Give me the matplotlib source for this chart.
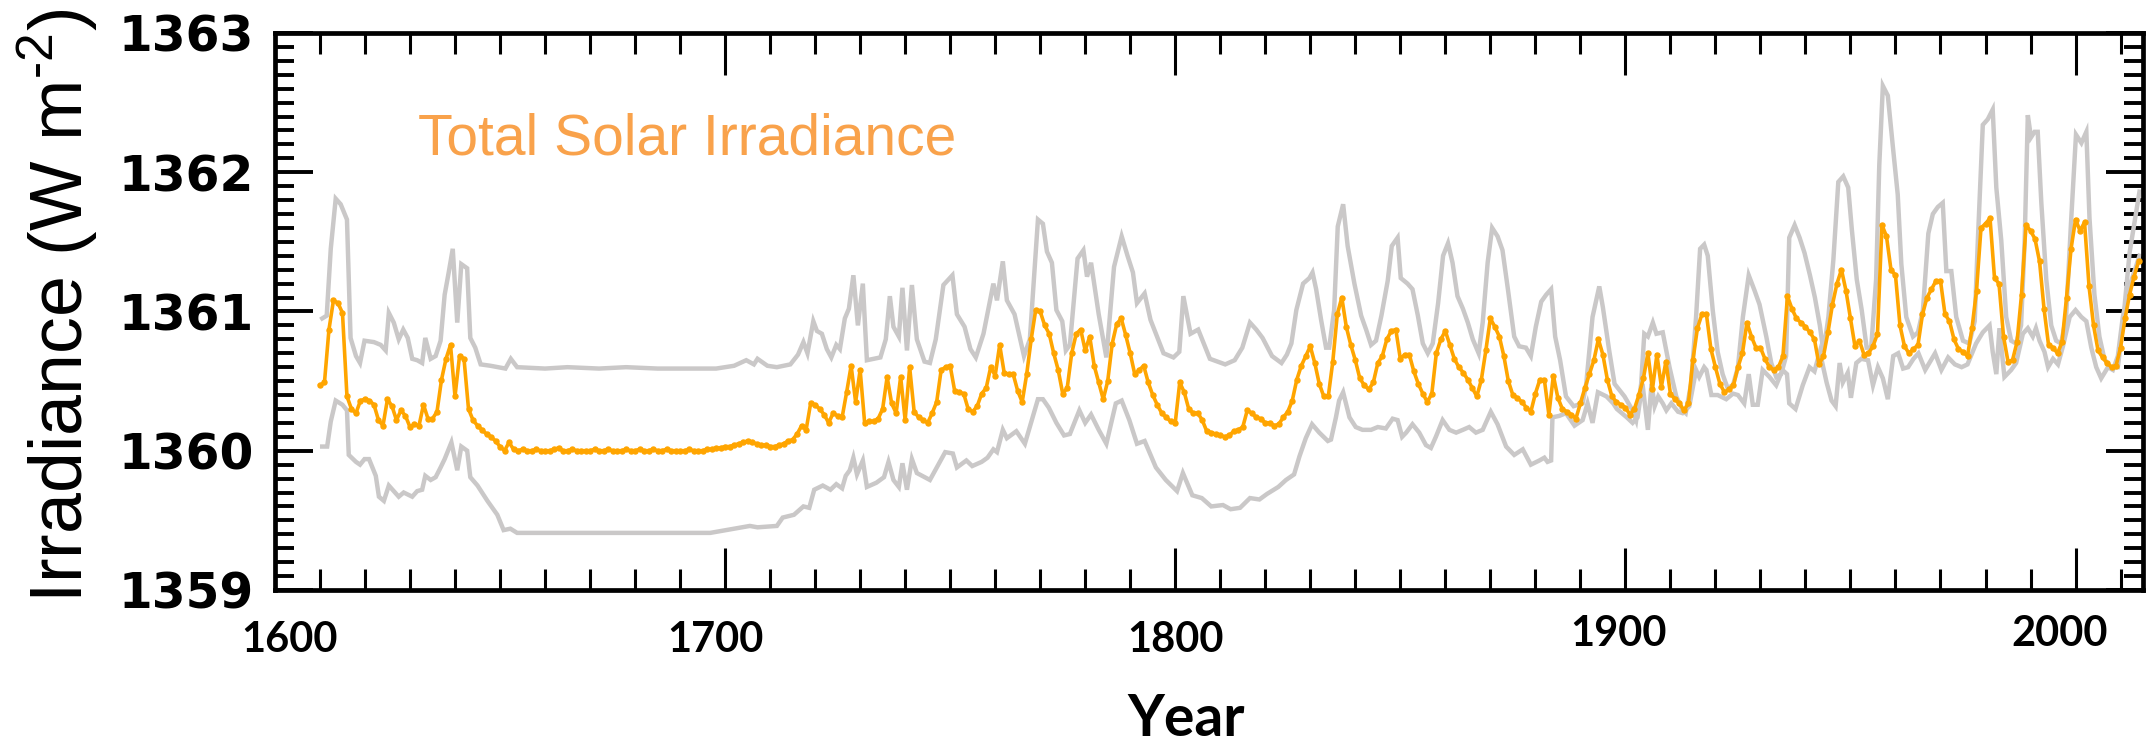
import numpy as np
import matplotlib.pyplot as plt
from matplotlib.ticker import MultipleLocator
from matplotlib.transforms import ScaledTranslation

# annual total solar irradiance (W m-2), 1610 onwards
tsi = [
    1360.47, 1360.49, 1360.87, 1361.08, 1361.06, 1360.99, 1360.39, 1360.30, 1360.27, 1360.36,
    1360.37, 1360.36, 1360.33, 1360.22, 1360.18, 1360.37, 1360.32, 1360.22, 1360.29, 1360.25,
    1360.17, 1360.19, 1360.18, 1360.33, 1360.23, 1360.23, 1360.28, 1360.51, 1360.66, 1360.76,
    1360.39, 1360.68, 1360.66, 1360.30, 1360.22, 1360.18, 1360.15, 1360.12, 1360.10, 1360.07,
    1360.03, 1360.00, 1360.06, 1360.01, 1360.00, 1360.01, 1360.00, 1360.00, 1360.01, 1360.00,
    1360.00, 1360.00, 1360.01, 1360.02, 1360.00, 1360.00, 1360.01, 1360.00, 1360.00, 1360.00,
    1360.00, 1360.01, 1360.00, 1360.00, 1360.01, 1360.00, 1360.00, 1360.00, 1360.01, 1360.00,
    1360.00, 1360.01, 1360.00, 1360.00, 1360.01, 1360.00, 1360.00, 1360.01, 1360.00, 1360.00,
    1360.00, 1360.00, 1360.01, 1360.00, 1360.00, 1360.00, 1360.01, 1360.01, 1360.02, 1360.02,
    1360.03, 1360.03, 1360.04, 1360.05, 1360.06, 1360.07, 1360.06, 1360.05, 1360.04, 1360.04,
    1360.03, 1360.03, 1360.04, 1360.05, 1360.07, 1360.08, 1360.12, 1360.18, 1360.15, 1360.34,
    1360.33, 1360.30, 1360.26, 1360.20, 1360.27, 1360.25, 1360.24, 1360.42, 1360.61, 1360.35,
    1360.58, 1360.20, 1360.21, 1360.21, 1360.23, 1360.30, 1360.53, 1360.34, 1360.27, 1360.53,
    1360.22, 1360.60, 1360.28, 1360.24, 1360.22, 1360.20, 1360.27, 1360.35, 1360.58, 1360.60,
    1360.61, 1360.43, 1360.42, 1360.41, 1360.30, 1360.28, 1360.32, 1360.41, 1360.45, 1360.60,
    1360.54, 1360.76, 1360.56, 1360.55, 1360.55, 1360.43, 1360.35, 1360.55, 1360.80, 1361.01,
    1361.00, 1360.90, 1360.84, 1360.70, 1360.58, 1360.41, 1360.45, 1360.70, 1360.84, 1360.87,
    1360.72, 1360.82, 1360.61, 1360.49, 1360.37, 1360.50, 1360.77, 1360.91, 1360.95, 1360.83,
    1360.70, 1360.55, 1360.58, 1360.61, 1360.49, 1360.40, 1360.33, 1360.27, 1360.24, 1360.21,
    1360.20, 1360.49, 1360.42, 1360.30, 1360.27, 1360.27, 1360.22, 1360.14, 1360.13, 1360.12,
    1360.11, 1360.10, 1360.11, 1360.14, 1360.15, 1360.17, 1360.29, 1360.27, 1360.24, 1360.23,
    1360.20, 1360.20, 1360.18, 1360.19, 1360.24, 1360.28, 1360.36, 1360.51, 1360.61, 1360.68,
    1360.75, 1360.63, 1360.48, 1360.39, 1360.39, 1360.64, 1360.98, 1361.10, 1360.89, 1360.76,
    1360.65, 1360.52, 1360.47, 1360.44, 1360.49, 1360.63, 1360.68, 1360.80, 1360.86, 1360.87,
    1360.66, 1360.69, 1360.69, 1360.57, 1360.48, 1360.41, 1360.35, 1360.41, 1360.70, 1360.80,
    1360.86, 1360.76, 1360.66, 1360.60, 1360.56, 1360.51, 1360.45, 1360.39, 1360.51, 1360.72,
    1360.95, 1360.89, 1360.82, 1360.68, 1360.50, 1360.40, 1360.38, 1360.35, 1360.31, 1360.28,
    1360.41, 1360.51, 1360.51, 1360.26, 1360.54, 1360.38, 1360.30, 1360.28, 1360.26, 1360.23,
    1360.34, 1360.45, 1360.55, 1360.65, 1360.80, 1360.69, 1360.51, 1360.39, 1360.35, 1360.33,
    1360.31, 1360.26, 1360.30, 1360.40, 1360.52, 1360.70, 1360.44, 1360.69, 1360.46, 1360.64,
    1360.41, 1360.37, 1360.34, 1360.29, 1360.34, 1360.65, 1360.88, 1360.98, 1360.98, 1360.73,
    1360.60, 1360.48, 1360.42, 1360.44, 1360.47, 1360.60, 1360.70, 1360.92, 1360.82, 1360.74,
    1360.74, 1360.66, 1360.60, 1360.58, 1360.60, 1360.68, 1361.11, 1361.02, 1360.95, 1360.92,
    1360.89, 1360.85, 1360.80, 1360.62, 1360.68, 1360.85, 1361.05, 1361.20, 1361.30, 1361.15,
    1360.95, 1360.75, 1360.79, 1360.69, 1360.70, 1360.75, 1360.84, 1361.62, 1361.54, 1361.30,
    1361.26, 1360.90, 1360.75, 1360.70, 1360.73, 1360.76, 1360.98, 1361.10, 1361.16, 1361.22,
    1361.22, 1360.98, 1360.93, 1360.80, 1360.73, 1360.71, 1360.68, 1360.88, 1361.15, 1361.60,
    1361.63, 1361.67, 1361.24, 1361.20, 1360.82, 1360.64, 1360.65, 1360.78, 1361.12, 1361.62,
    1361.58, 1361.52, 1361.36, 1361.02, 1360.76, 1360.74, 1360.70, 1360.78, 1361.10, 1361.45,
    1361.66, 1361.58, 1361.64, 1361.18, 1360.90, 1360.72, 1360.67, 1360.63, 1360.60, 1360.61,
    1360.74, 1360.95, 1361.12, 1361.25, 1361.36,
]
years = np.arange(1610, 1610 + len(tsi))

# upper bound of the reconstruction range
upper_years = [
    1610.5, 1611.5, 1612.4, 1613.5, 1614.6, 1616.0, 1616.8, 1618.0, 1618.9, 1619.9,
    1622.0, 1623.5, 1624.6, 1625.3, 1626.4, 1627.5, 1628.5, 1629.5, 1630.5, 1631.6,
    1632.7, 1633.4, 1634.6, 1635.7, 1636.8, 1637.7, 1638.6, 1639.5, 1640.5, 1641.4,
    1642.7, 1643.4, 1644.5, 1645.7, 1647.9, 1651.2, 1652.4, 1653.8, 1660, 1665,
    1672, 1678, 1685, 1692, 1698, 1702, 1704.7, 1706.4, 1707.2, 1709.4,
    1711.5, 1714.5, 1716.2, 1717.4, 1718.3, 1719.6, 1720.4, 1721.5, 1722.6, 1723.6,
    1724.7, 1725.5, 1726.6, 1727.5, 1728.5, 1729.5, 1730.6, 1731.5, 1734.5, 1735.7,
    1736.6, 1737.4, 1738.6, 1739.4, 1740.4, 1741.5, 1742.6, 1744.3, 1745.5, 1746.8,
    1748.5, 1750.5, 1751.5, 1753.2, 1754.5, 1755.7, 1757.4, 1759.6, 1760.4, 1761.7,
    1762.6, 1764.3, 1766.4, 1767.7, 1769.5, 1770.6, 1771.5, 1772.6, 1773.6, 1774.9,
    1775.7, 1776.6, 1778.3, 1779.6, 1780.4, 1781.3, 1783.0, 1784.7, 1786.4, 1788.1,
    1789.4, 1790.6, 1791.5, 1793.2, 1794.5, 1795.7, 1797.4, 1799.6, 1800.9, 1801.8,
    1803.4, 1805.1, 1807.7, 1811.1, 1813.2, 1814.9, 1816.6, 1818.0, 1819.4, 1821.5,
    1823.6, 1824.8, 1825.8, 1826.9, 1828.4, 1829.8, 1830.5, 1831.3, 1832.4, 1833.5,
    1834.2, 1835.3, 1836.1, 1837.3, 1838.3, 1839.8, 1841.3, 1842.4, 1843.5, 1844.6,
    1845.8, 1847.2, 1848.1, 1849.4, 1850.1, 1851.6, 1852.7, 1853.9, 1855.0, 1856.1,
    1857.2, 1858.4, 1859.5, 1860.6, 1861.6, 1862.7, 1863.9, 1865.0, 1866.1, 1867.4,
    1868.3, 1869.4, 1870.4, 1871.6, 1872.7, 1873.9, 1875.3, 1876.4, 1877.9, 1879.0,
    1880.1, 1881.3, 1882.4, 1883.5, 1884.4, 1885.5, 1886.8, 1888.5, 1890.5, 1891.3,
    1892.7, 1894.2, 1895.0, 1896.4, 1897.6, 1899.8, 1901.6, 1902.4, 1903.5, 1904.2,
    1905.0, 1906.1, 1906.9, 1908.3, 1909.8, 1911.3, 1912.7, 1913.4, 1914.6, 1915.7,
    1916.6, 1917.5, 1918.3, 1919.4, 1920.5, 1921.6, 1922.7, 1923.9, 1925.0, 1926.1,
    1927.4, 1928.7, 1929.8, 1931.3, 1932.4, 1933.5, 1934.6, 1935.7, 1936.4, 1937.6,
    1938.7, 1939.8, 1941.0, 1942.1, 1943.2, 1944.0, 1945.1, 1946.2, 1947.3, 1948.4,
    1949.5, 1950.3, 1951.4, 1952.5, 1953.6, 1954.6, 1955.7, 1956.4, 1957.2, 1958.3,
    1959.4, 1960.5, 1961.3, 1962.4, 1963.9, 1965.0, 1966.1, 1967.3, 1968.3, 1969.4,
    1970.5, 1971.3, 1972.4, 1973.5, 1975.0, 1976.4, 1977.6, 1978.3, 1979.4, 1980.5,
    1981.6, 1982.4, 1983.5, 1984.6, 1985.7, 1986.8, 1987.9, 1988.7, 1989.4, 1990.1,
    1990.9, 1991.6, 1992.4, 1993.5, 1994.6, 1995.7, 1996.8, 1997.9, 1999.0, 2000.1,
    2001.3, 2002.4, 2003.1, 2004.2, 2005.3, 2006.4, 2007.6, 2009.4, 2010.5, 2012.0,
    2014.2,
]
upper = [
    1360.95, 1360.97, 1361.45, 1361.81, 1361.77, 1361.66, 1360.81, 1360.68, 1360.63, 1360.79,
    1360.78, 1360.76, 1360.72, 1360.99, 1360.92, 1360.80, 1360.87, 1360.81, 1360.66, 1360.65,
    1360.63, 1360.81, 1360.66, 1360.68, 1360.79, 1361.12, 1361.28, 1361.45, 1360.92, 1361.34,
    1361.31, 1360.81, 1360.74, 1360.62, 1360.61, 1360.59, 1360.66, 1360.60, 1360.59, 1360.60,
    1360.59, 1360.60, 1360.59, 1360.59, 1360.59, 1360.61, 1360.65, 1360.62, 1360.66, 1360.61,
    1360.60, 1360.62, 1360.69, 1360.78, 1360.70, 1360.93, 1360.86, 1360.84, 1360.73, 1360.67,
    1360.76, 1360.73, 1360.95, 1361.02, 1361.26, 1360.90, 1361.20, 1360.65, 1360.67, 1360.80,
    1361.11, 1360.89, 1360.82, 1361.17, 1360.72, 1361.19, 1360.80, 1360.64, 1360.63, 1360.80,
    1361.19, 1361.26, 1360.98, 1360.89, 1360.73, 1360.67, 1360.84, 1361.20, 1361.08, 1361.36,
    1361.08, 1360.98, 1360.68, 1360.80, 1361.66, 1361.63, 1361.43, 1361.35, 1361.01, 1360.93,
    1360.72, 1360.76, 1361.38, 1361.44, 1361.25, 1361.35, 1360.98, 1360.67, 1361.32, 1361.54,
    1361.40, 1361.28, 1361.06, 1361.13, 1360.94, 1360.84, 1360.70, 1360.67, 1360.71, 1361.11,
    1360.84, 1360.87, 1360.66, 1360.62, 1360.65, 1360.74, 1360.92, 1360.87, 1360.81, 1360.68,
    1360.63, 1360.69, 1360.77, 1361.01, 1361.20, 1361.24, 1361.28, 1361.16, 1360.94, 1360.74,
    1360.74, 1361.01, 1361.61, 1361.77, 1361.47, 1361.20, 1360.97, 1360.87, 1360.76, 1360.79,
    1360.97, 1361.22, 1361.47, 1361.53, 1361.24, 1361.20, 1361.16, 1360.97, 1360.77, 1360.70,
    1360.77, 1361.06, 1361.40, 1361.49, 1361.35, 1361.11, 1361.02, 1360.92, 1360.80, 1360.70,
    1360.92, 1361.35, 1361.60, 1361.54, 1361.44, 1361.16, 1360.82, 1360.75, 1360.74, 1360.68,
    1360.89, 1361.07, 1361.12, 1361.16, 1360.82, 1360.65, 1360.39, 1360.32, 1360.34, 1360.48,
    1360.96, 1361.18, 1361.03, 1360.72, 1360.48, 1360.39, 1360.29, 1360.22, 1360.48, 1360.84,
    1360.82, 1360.92, 1360.84, 1360.85, 1360.60, 1360.39, 1360.29, 1360.27, 1360.48, 1360.96,
    1361.45, 1361.48, 1361.40, 1361.01, 1360.71, 1360.55, 1360.45, 1360.47, 1360.60, 1360.96,
    1361.26, 1361.15, 1361.05, 1360.82, 1360.63, 1360.53, 1360.55, 1360.68, 1361.53, 1361.62,
    1361.53, 1361.42, 1361.26, 1361.10, 1360.90, 1360.71, 1360.96, 1361.37, 1361.93, 1361.97,
    1361.89, 1361.59, 1361.23, 1361.01, 1360.74, 1360.74, 1361.23, 1362.05, 1362.62, 1362.55,
    1362.19, 1361.84, 1361.34, 1360.96, 1360.82, 1360.85, 1361.01, 1361.56, 1361.70, 1361.75,
    1361.78, 1361.29, 1361.29, 1360.96, 1360.79, 1360.77, 1360.93, 1361.51, 1362.34, 1362.38,
    1362.45, 1361.89, 1361.51, 1360.96, 1360.79, 1360.77, 1360.90, 1361.51, 1362.41, 1362.25,
    1362.29, 1362.29, 1361.78, 1361.23, 1360.90, 1360.79, 1360.77, 1360.96, 1361.64, 1362.27,
    1362.21, 1362.29, 1361.67, 1361.12, 1360.82, 1360.66, 1360.60, 1360.60, 1360.90, 1361.42,
    1361.86,
]

# lower bound of the reconstruction range
lower_years = [
    1610.5, 1611.6, 1612.4, 1613.5, 1615.0, 1616.0, 1616.4, 1618.0, 1618.9, 1619.9,
    1620.9, 1622.4, 1623.1, 1624.2, 1625.3, 1626.4, 1627.5, 1628.6, 1630.5, 1631.6,
    1632.7, 1633.4, 1634.6, 1635.7, 1636.8, 1637.7, 1639.2, 1640.5, 1641.4, 1642.7,
    1643.4, 1645.0, 1647.2, 1649.4, 1650.8, 1652.3, 1653.8, 1665, 1680, 1696.7,
    1702.0, 1705.5, 1707.2, 1711.5, 1712.8, 1715.3, 1717.4, 1718.7, 1719.8, 1721.7,
    1723.4, 1724.7, 1726.0, 1726.8, 1727.7, 1728.5, 1729.3, 1730.6, 1731.5, 1733.6,
    1735.3, 1736.3, 1737.4, 1738.6, 1739.4, 1740.4, 1741.5, 1742.6, 1745.5, 1747.2,
    1748.9, 1750.6, 1751.5, 1753.6, 1754.9, 1757.0, 1758.3, 1759.6, 1760.4, 1761.7,
    1762.6, 1764.7, 1766.6, 1769.5, 1770.6, 1771.9, 1773.6, 1775.3, 1776.6, 1778.7,
    1780.0, 1781.3, 1783.0, 1784.7, 1786.8, 1788.1, 1789.8, 1791.5, 1793.2, 1795.7,
    1797.9, 1800.4, 1801.7, 1803.8, 1805.9, 1808.0, 1810.6, 1812.3, 1814.4, 1816.6,
    1818.7, 1820.4, 1822.9, 1824.6, 1826.4, 1827.6, 1829.0, 1830.4, 1832.0, 1833.9,
    1834.6, 1835.7, 1836.4, 1837.3, 1838.7, 1840.1, 1841.6, 1843.5, 1845.0, 1846.8,
    1848.3, 1849.4, 1850.4, 1851.3, 1852.7, 1854.2, 1855.7, 1856.8, 1857.9, 1859.4,
    1860.9, 1862.4, 1863.9, 1865.3, 1866.8, 1868.3, 1870.1, 1871.6, 1873.5, 1875.3,
    1877.2, 1879.0, 1880.9, 1882.0, 1882.7, 1883.5, 1883.8, 1885.3, 1886.8, 1888.7,
    1890.5, 1891.6, 1892.7, 1893.9, 1895.8, 1897.3, 1898.1, 1900.3, 1901.6, 1902.7,
    1903.8, 1905.0, 1905.8, 1906.5, 1907.3, 1908.3, 1909.1, 1910.2, 1911.7, 1912.7,
    1914.2, 1915.7, 1916.4, 1917.5, 1918.0, 1919.1, 1920.5, 1922.4, 1923.9, 1925.0,
    1926.4, 1927.4, 1928.3, 1929.4, 1930.5, 1932.0, 1933.5, 1934.9, 1935.9, 1936.4,
    1937.8, 1939.4, 1940.9, 1942.0, 1943.2, 1944.7, 1945.8, 1946.7, 1947.6, 1948.3,
    1949.4, 1950.1, 1951.3, 1952.4, 1953.9, 1955.0, 1956.1, 1957.2, 1958.3, 1959.5,
    1960.6, 1961.7, 1962.8, 1964.0, 1965.1, 1966.6, 1967.7, 1968.8, 1970.2, 1971.7,
    1973.2, 1974.7, 1976.0, 1977.9, 1979.4, 1980.9, 1981.6, 1982.4, 1983.1, 1984.2,
    1985.7, 1986.8, 1988.3, 1989.4, 1990.5, 1991.2, 1992.0, 1993.1, 1993.9, 1995.0,
    1996.1, 1997.2, 1998.7, 2000.0, 2001.3, 2002.4, 2003.5, 2004.6, 2005.7, 2007.2,
    2008.3, 2009.4, 2010.5, 2012.0, 2014.2,
]
lower = [
    1360.03, 1360.03, 1360.21, 1360.36, 1360.33, 1360.29, 1359.97, 1359.92, 1359.90, 1359.94,
    1359.94, 1359.82, 1359.67, 1359.64, 1359.75, 1359.71, 1359.67, 1359.70, 1359.67, 1359.71,
    1359.72, 1359.82, 1359.79, 1359.81, 1359.88, 1359.94, 1360.06, 1359.86, 1360.03, 1360.00,
    1359.81, 1359.75, 1359.64, 1359.54, 1359.43, 1359.44, 1359.41, 1359.41, 1359.41, 1359.41,
    1359.44, 1359.46, 1359.45, 1359.46, 1359.52, 1359.54, 1359.60, 1359.59, 1359.72, 1359.75,
    1359.72, 1359.76, 1359.73, 1359.82, 1359.86, 1359.95, 1359.83, 1359.93, 1359.74, 1359.77,
    1359.81, 1359.92, 1359.79, 1359.74, 1359.91, 1359.72, 1359.94, 1359.84, 1359.79, 1359.89,
    1359.99, 1359.98, 1359.88, 1359.93, 1359.89, 1359.92, 1359.95, 1360.01, 1359.99, 1360.15,
    1360.09, 1360.14, 1360.05, 1360.37, 1360.37, 1360.31, 1360.20, 1360.11, 1360.12, 1360.29,
    1360.20, 1360.26, 1360.15, 1360.05, 1360.34, 1360.36, 1360.22, 1360.05, 1360.07, 1359.88,
    1359.79, 1359.71, 1359.84, 1359.68, 1359.66, 1359.60, 1359.61, 1359.58, 1359.59, 1359.66,
    1359.65, 1359.69, 1359.74, 1359.79, 1359.83, 1359.96, 1360.09, 1360.19, 1360.13, 1360.07,
    1360.08, 1360.24, 1360.36, 1360.42, 1360.24, 1360.17, 1360.15, 1360.15, 1360.17, 1360.16,
    1360.23, 1360.22, 1360.10, 1360.13, 1360.19, 1360.13, 1360.04, 1360.02, 1360.10, 1360.22,
    1360.15, 1360.13, 1360.15, 1360.17, 1360.13, 1360.15, 1360.28, 1360.19, 1360.03, 1359.97,
    1360.01, 1359.90, 1359.93, 1359.95, 1359.92, 1359.93, 1360.24, 1360.25, 1360.27, 1360.18,
    1360.22, 1360.34, 1360.20, 1360.42, 1360.39, 1360.34, 1360.30, 1360.24, 1360.20, 1360.24,
    1360.48, 1360.15, 1360.48, 1360.32, 1360.39, 1360.34, 1360.29, 1360.34, 1360.28, 1360.27,
    1360.32, 1360.58, 1360.53, 1360.60, 1360.58, 1360.40, 1360.40, 1360.37, 1360.41, 1360.40,
    1360.34, 1360.55, 1360.33, 1360.33, 1360.58, 1360.53, 1360.47, 1360.58, 1360.55, 1360.34,
    1360.30, 1360.47, 1360.60, 1360.57, 1360.71, 1360.49, 1360.36, 1360.32, 1360.63, 1360.49,
    1360.56, 1360.38, 1360.63, 1360.66, 1360.65, 1360.47, 1360.60, 1360.52, 1360.37, 1360.68,
    1360.70, 1360.59, 1360.60, 1360.66, 1360.70, 1360.58, 1360.64, 1360.70, 1360.58, 1360.67,
    1360.62, 1360.60, 1360.62, 1360.77, 1360.85, 1360.90, 1360.71, 1360.55, 1360.88, 1360.53,
    1360.58, 1360.63, 1360.84, 1360.88, 1360.82, 1360.88, 1360.79, 1360.71, 1360.60, 1360.66,
    1360.62, 1360.75, 1360.96, 1361.01, 1360.96, 1360.93, 1360.74, 1360.60, 1360.52, 1360.60,
    1360.58, 1360.68, 1360.96, 1361.18, 1361.40,
]

major_years = [1600, 1700, 1800, 1900, 2000]
major_irr = [1359, 1360, 1361, 1362, 1363]

orange = '#FFA500'
grey = '#CAC8C8'

fig = plt.figure(figsize=(21.48, 7.49), dpi=100)
ax = fig.add_axes([0.128, 0.2123, 0.8697, 0.7437])

ax.plot(upper_years, upper, color=grey, lw=3.2, zorder=2, solid_joinstyle='miter')
ax.plot(lower_years, lower, color=grey, lw=3.2, zorder=2, solid_joinstyle='miter')
ax.plot(years, tsi, color=orange, lw=2.6, marker='o', ms=3.6, zorder=3)

ax.set_xlim(1600, 2015)
ax.set_ylim(1359, 1363)
ax.set_xticks(major_years)
ax.set_yticks(major_irr)
ax.xaxis.set_minor_locator(MultipleLocator(10))
ax.yaxis.set_minor_locator(MultipleLocator(0.1))

for s in ax.spines.values():
    s.set_linewidth(3.4)

ax.tick_params(axis='x', which='major', direction='in', top=True, length=30, width=2.2, pad=22)
ax.tick_params(axis='x', which='minor', direction='in', top=True, length=15, width=2.2)
ax.tick_params(axis='y', which='major', direction='in', right=True, length=27, width=2.8, pad=15)
ax.tick_params(axis='y', which='minor', direction='in', right=True, length=13.5, width=2.8)

for lbl in ax.get_yticklabels():
    lbl.set_fontfamily('DejaVu Sans')
    lbl.set_fontweight('bold')
    lbl.set_fontsize(35)

# x labels are slightly staggered
x_shift = [(15, 0), (-10, 0), (0, 0), (-7, 6), (-16, 6)]
for lbl, (dx, dy) in zip(ax.get_xticklabels(), x_shift):
    lbl.set_fontfamily('Lato')
    lbl.set_fontweight('bold')
    lbl.set_fontsize(30)
    lbl.set_transform(lbl.get_transform() + ScaledTranslation(dx / 100, dy / 100, fig.dpi_scale_trans))

fig.text(0.552, 0.004, 'Year', fontfamily='Lato', fontweight='bold', fontsize=41,
         ha='center', va='bottom')

fig.text(0.027, 0.592, 'Irradiance (W m$^{\\mathregular{\u20102}}$)',
         fontfamily='Liberation Sans', fontsize=53, rotation=90, ha='center', va='center')

ax.text(0.0766, 0.781, 'Total Solar Irradiance', transform=ax.transAxes,
        fontfamily='Liberation Sans', fontsize=41, color='#F9A24B', va='baseline')

fig.savefig('out.png', dpi=100)
